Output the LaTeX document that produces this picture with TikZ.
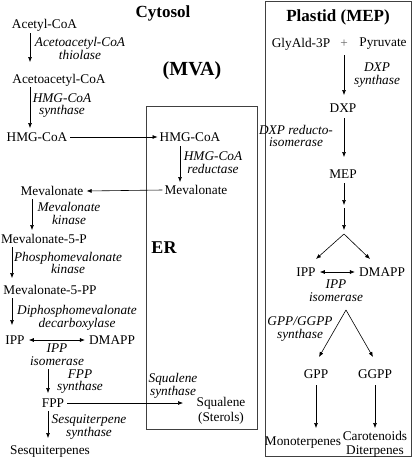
\documentclass[tikz,border=0pt]{standalone}
\usepackage{fontspec}
\setmainfont{Liberation Serif}
\usetikzlibrary{arrows.meta}
\begin{document}
\begin{tikzpicture}[x=1pt,y=-1pt,
  txt/.style={inner sep=0pt,font=\fontsize{13.3}{13}\selectfont},
  enz/.style={inner sep=0pt,align=center,font=\fontsize{13.3}{12.8}\selectfont\itshape},
  ttl/.style={inner sep=0pt,font=\fontsize{17}{17}\selectfont\bfseries},
  arr/.style={line width=0.6pt,-{Latex[length=5pt,width=4pt]}},
  darr/.style={line width=0.6pt,{Latex[length=5pt,width=4pt]}-{Latex[length=5pt,width=4pt]}},
  box/.style={line width=0.8pt,draw=black!75}]
\useasboundingbox (0,0) rectangle (415,458);
% compartments
\draw[box] (146,106) rectangle (257,429);
\draw[box] (265,1) rectangle (411,456);
% titles
\node[ttl] (cyt) at (163,13) {Cytosol};
\node[ttl,font=\fontsize{20}{20}\selectfont\bfseries] (mva) at (192,71) {(MVA)};
\node[ttl,font=\fontsize{18}{18}\selectfont\bfseries] (er) at (164,248) {ER};
\node[ttl] (pla) at (338,17) {Plastid (MEP)};
% cytosol chain
\node[txt] (acetyl) at (44.5,25) {Acetyl-CoA};
\node[enz] (e1) at (80,48.5) {Acetoacetyl-CoA\\thiolase};
\node[txt] (acac) at (59,80) {Acetoacetyl-CoA};
\node[enz] (e2) at (62,105.5) {HMG-CoA\\synthase};
\node[txt] (hmg) at (37,137) {HMG-CoA};
\coordinate (a1s) at (30,33); \coordinate (a1e) at (30,62);
\draw[arr] (a1s) -- (a1e);
\coordinate (a2s) at (30,87); \coordinate (a2e) at (30,128);
\draw[arr] (a2s) -- (a2e);
% ER
\node[txt] (hmger) at (190,137) {HMG-CoA};
\draw[arr] ([xshift=3pt]hmg.east) -- ([xshift=-2pt]hmger.west);
\node[enz] (e3) at (213,162.5) {HMG-CoA\\reductase};
\node[txt] (mever) at (196,190) {Mevalonate};
\coordinate (a3s) at (180,146); \coordinate (a3e) at (180,182);
\draw[arr] (a3s) -- (a3e);
\node[txt] (mev) at (52,191) {Mevalonate};
\draw[arr] ([xshift=-2pt]mever.west) -- ([xshift=3pt]mev.east);
\node[enz] (e4) at (69,213.5) {Mevalonate\\kinase};
\coordinate (a4s) at (32,199); \coordinate (a4e) at (32,230);
\draw[arr] (a4s) -- (a4e);
\node[txt] (m5p) at (44,239) {Mevalonate-5-P};
\node[enz] (e5) at (68,263) {Phosphomevalonate\\kinase};
\coordinate (a5s) at (12,247); \coordinate (a5e) at (12,278);
\draw[arr] (a5s) -- (a5e);
\node[txt] (m5pp) at (50,290) {Mevalonate-5-PP};
\node[enz] (e6) at (77,317.5) {Diphosphomevalonate\\decarboxylase};
\coordinate (a6s) at (12,298); \coordinate (a6e) at (12,325);
\draw[arr] (a6s) -- (a6e);
\node[txt] (ipp) at (15,340) {IPP};
\node[txt] (dmapp) at (112,340) {DMAPP};
\draw[darr] ([xshift=4pt]ipp.east) -- ([xshift=-4pt]dmapp.west);
\node[enz] (e7) at (57,355) {IPP\\isomerase};
\coordinate (a7s) at (48,369); \coordinate (a7e) at (48,393);
\draw[arr] (a7s) -- (a7e);
\node[enz] (e8) at (80,381.5) {FPP\\synthase};
\node[txt] (fpp) at (53,403) {FPP};
\node[txt] (squal) at (221,403) {Squalene};
\node[txt] (sterol) at (221,418) {(Sterols)};
\node[enz] (e9) at (173,386) {Squalene\\synthase};
\coordinate (sq) at (183,403);
\draw[arr] ([xshift=3pt]fpp.east) -- (sq);
\coordinate (a8s) at (48,411); \coordinate (a8e) at (48,438);
\draw[arr] (a8s) -- (a8e);
\node[enz] (e10) at (89,427) {Sesquiterpene\\synthase};
\node[txt] (sesq) at (50,452) {Sesquiterpenes};
% plastid
\node[txt] (gly) at (301,44) {GlyAld-3P};
\node[txt,text=black!60] (plus) at (344,44) {+};
\node[txt] (pyr) at (383,44) {Pyruvate};
\coordinate (p1s) at (344,55); \coordinate (p1e) at (344,95);
\draw[arr] (p1s) -- (p1e);
\node[enz] (e11) at (377,75) {DXP\\synthase};
\node[txt] (dxp) at (343,108) {DXP};
\coordinate (p2s) at (344,118); \coordinate (p2e) at (344,157);
\draw[arr] (p2s) -- (p2e);
\node[enz] (e12) at (296,136) {DXP reducto-\\isomerase};
\node[txt] (mep) at (343,174) {MEP};
\coordinate (p3s) at (344,183); \coordinate (p3e) at (344,205);
\draw[arr] (p3s) -- (p3e);
\coordinate (p4s) at (344,208); \coordinate (p4e) at (344,230);
\draw[arr] (p4s) -- (p4e);
\coordinate (apex1) at (344,234);
\node[txt] (ipp2) at (306,272) {IPP};
\node[txt] (dmapp2) at (382,272) {DMAPP};
\coordinate (b1) at (316,259); \coordinate (b2) at (370,259);
\draw[arr] (apex1) -- (b1);
\draw[arr] (apex1) -- (b2);
\draw[darr] ([xshift=4pt]ipp2.east) -- ([xshift=-4pt]dmapp2.west);
\node[enz] (e13) at (336,291) {IPP\\isomerase};
\coordinate (apex2) at (346,310);
\coordinate (c1) at (319,357); \coordinate (c2) at (373,357);
\draw[arr] (apex2) -- (c1);
\draw[arr] (apex2) -- (c2);
\node[enz] (e14) at (300,329) {GPP/GGPP\\synthase};
\node[txt] (gpp) at (316,374) {GPP};
\node[txt] (ggpp) at (375,374) {GGPP};
\coordinate (g1s) at (316,385); \coordinate (g1e) at (316,428);
\draw[arr] (g1s) -- (g1e);
\coordinate (g2s) at (375,385); \coordinate (g2e) at (375,428);
\draw[arr] (g2s) -- (g2e);
\node[txt] (mono) at (303,443) {Monoterpenes};
\node[txt,align=center,font=\fontsize{13.3}{14}\selectfont] (caro) at (375,444) {Carotenoids\\Diterpenes};
\end{tikzpicture}
\end{document}
